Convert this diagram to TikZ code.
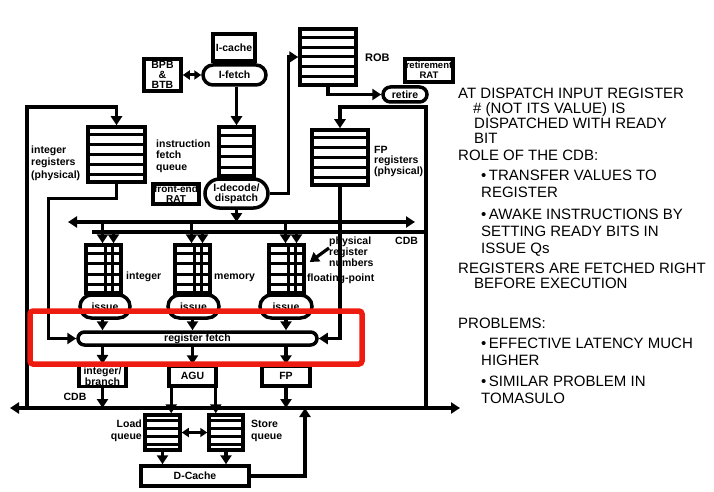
\documentclass[tikz,border=0pt]{standalone}
\usepackage{fontspec}
\setmainfont{Liberation Sans}
\usetikzlibrary{positioning,calc,arrows.meta,shapes.misc}
\definecolor{hlred}{HTML}{EE1C10}

\begin{document}
\begin{tikzpicture}[x=1pt, y=-1pt,
  box/.style={draw, line width=3.5pt, fill=white, inner sep=1pt, align=center,
              font=\bfseries\fontsize{10.5}{10}\selectfont},
  pill/.style={box, rounded rectangle},
  stack/.style={draw, line width=3.5pt, fill=white, inner sep=0pt},
  stripe/.style={line width=3pt},
  lbl/.style={inner sep=0pt, align=left, font=\bfseries\fontsize{10.5}{11.5}\selectfont},
  note/.style={inner sep=0pt, align=left, anchor=north west,
               font=\fontsize{15}{15}\selectfont},
  item/.style={note, font=\fontsize{15}{17}\selectfont},
  flow/.style={line width=3.2pt, -{Triangle[length=9pt,width=11pt]}},
  both/.style={line width=3pt, {Triangle[length=7pt,width=9pt]}-{Triangle[length=7pt,width=9pt]}},
  busarr/.style={line width=3.2pt, {Triangle[length=9pt,width=11pt]}-{Triangle[length=9pt,width=11pt]}},
  bus/.style={line width=3.2pt},
]
\useasboundingbox (0,0) rectangle (714,492);

% front end
\node[box, minimum width=37pt, minimum height=32pt] (bpb) at (162.5,75) {BPB\\\&\\BTB};
\node[box, minimum width=42pt, minimum height=27pt] (icache) at (234,47.5) {I-cache};
\node[pill, minimum width=65pt, minimum height=20pt] (ifetch) at (234.5,75) {I-fetch};
\node[stack, minimum width=35pt, minimum height=49pt] (ifq) at (236.5,151.5) {};
\node[box, minimum width=44pt, minimum height=20pt, font=\bfseries\fontsize{10}{10.5}\selectfont] (ferat) at (176,194) {front-end\\RAT};

% ROB and retirement
\node[stack, minimum width=56pt, minimum height=56pt] (rob) at (328,57) {};
\node[box, minimum width=44pt, minimum height=23pt, font=\bfseries\fontsize{9.5}{10}\selectfont] (retrat) at (429,70.5) {retirement\\RAT};
\node[pill, minimum width=46pt, minimum height=15pt] (retire) at (405,94.5) {retire};

% register files
\node[stack, minimum width=57pt, minimum height=55pt] (intreg) at (116.5,154.5) {};
\node[stack, minimum width=56pt, minimum height=55pt] (fpreg) at (340,157.5) {};

% issue queues
\node[stack, minimum width=35pt, minimum height=48pt] (iqint) at (103.5,269) {};
\node[stack, minimum width=35pt, minimum height=48pt] (iqmem) at (192.5,269) {};
\node[stack, minimum width=35pt, minimum height=48pt] (iqfp)  at (286.5,269) {};

% load/store queues
\node[stack, minimum width=35pt, minimum height=35pt] (ldq) at (162.5,432.5) {};
\node[stack, minimum width=34pt, minimum height=35pt] (stq) at (226,432.5) {};

\foreach \s/\n in {ifq/5, rob/6, intreg/6, fpreg/6, ldq/5, stq/5, iqint/5, iqmem/5, iqfp/5}{
  \pgfmathtruncatemacro{\m}{\n-1}
  \foreach \i in {1,...,\m}
    \draw[stripe] ($(\s.north west)!\i/\n!(\s.south west)$) -- ($(\s.north east)!\i/\n!(\s.south east)$);
}
\foreach \q in {iqint,iqmem,iqfp}{
  \draw[stripe] ([xshift=21pt]\q.north west) -- ([xshift=21pt]\q.south west);
  \draw[stripe] ([xshift=28pt]\q.north west) -- ([xshift=28pt]\q.south west);
}

\node[pill, minimum width=65pt, minimum height=29pt] (decode) at (236.5,193.5) {I-decode/\\dispatch};
\node[pill, minimum width=52pt, minimum height=23pt] (isint) at (105,306.5) {\raisebox{-3pt}{issue}};
\node[pill, minimum width=53pt, minimum height=23pt] (ismem) at (193.5,306.5) {\raisebox{-3pt}{issue}};
\node[pill, minimum width=54pt, minimum height=23pt] (isfp)  at (286,306.5) {\raisebox{-3pt}{issue}};
\node[pill, minimum width=241pt, minimum height=13pt] (regfetch) at (197.5,338.5) {register fetch};

% execution
\node[box, minimum width=47pt, minimum height=20pt, font=\bfseries\fontsize{10.5}{9.5}\selectfont] (intfu) at (102.5,376) {integer/\\branch};
\node[box, minimum width=47pt, minimum height=20pt] (agu) at (192.5,376) {AGU};
\node[box, minimum width=48pt, minimum height=20pt] (fpfu) at (286,376) {FP};
\node[box, minimum width=108pt, minimum height=20pt] (dcache) at (195,476) {D-Cache};

% labels
\node[lbl, anchor=west, font=\bfseries\fontsize{10.5}{12.5}\selectfont] (intlbl) at (31,163) {integer\\registers\\(physical)};
\node[lbl, anchor=west] (ifqlbl) at (156,156) {instruction\\fetch\\queue};
\node[lbl, anchor=west, font=\bfseries\fontsize{11}{12}\selectfont] (roblbl) at (365,58) {ROB};
\node[lbl, anchor=west, font=\bfseries\fontsize{10.5}{10.5}\selectfont] (fplbl) at (374,161) {FP\\registers\\(physical)};
\node[lbl, anchor=west] (intq) at (126,277) {integer};
\node[lbl, anchor=west] (memq) at (214,278) {memory};
\node[lbl, anchor=west] (fpq)  at (307,279) {floating-point};
\node[lbl, anchor=west, font=\bfseries\fontsize{10.5}{9}\selectfont] (prn) at (329,252) {physical\\register\\numbers};
\node[lbl, anchor=west] (cdbtop) at (395,241) {CDB};
\node[lbl] (cdbbot) at (75,397) {CDB};
\node[lbl, anchor=east, align=right] (ldlbl) at (142,431) {Load\\queue};
\node[lbl, anchor=west] (stlbl) at (251,431) {Store\\queue};

% bus points
\coordinate (cdbW) at (10,408);
\coordinate (cdbE) at (460,408);
\coordinate (cdbL) at (27,408);
\coordinate (cdbR) at (426,408);
\coordinate (cdbD) at (305,408);
\coordinate (topL) at (27,107);
\coordinate (topR) at (426,107);
\coordinate (dispL) at (68,222);
\coordinate (dispR) at (415,222);
\coordinate (cdbU) at (92,232);

% connectors
\draw[both] (bpb.east) -- (ifetch.west);
\draw[flow] (ifq.north |- ifetch.south) -- (ifq.north);
\draw[flow] (decode.east) -- ++(19,0) |- (rob.west);
\draw[flow] (rob.south) |- (retire.west);
\draw[flow] (cdbL) -- (topL) -| (intreg.north);
\draw[flow] (cdbR) -- (topR) -| (fpreg.north);
\draw[flow] (intreg.south) -- ++(0,15) -| ([xshift=-28pt]regfetch.west) -- (regfetch.west);
\draw[flow] (fpreg.south) |- (regfetch.east);
\draw[flow] (decode.south) -- (decode.south |- dispL);
\draw[busarr] (dispL) -- (dispR);
\draw[bus] (cdbU) -- (cdbU -| cdbR);
\draw[busarr] (cdbW) -- (cdbE);
\foreach \q in {iqint,iqmem,iqfp}{
  \draw[flow] ([xshift=-1pt]\q.north |- dispL) -- ([xshift=-1pt]\q.north);
  \draw[flow] ([xshift=10pt]\q.north |- cdbU) -- ([xshift=10pt]\q.north);
}
\foreach \a/\b in {isint/intfu, ismem/agu, isfp/fpfu}{
  \draw[flow] (\b.north |- \a.south) -- (\b.north |- regfetch.north);
  \draw[flow] (\b.north |- regfetch.south) -- (\b.north);
}
\draw[flow] (intfu.south) -- (intfu.south |- cdbW);
\draw[flow] (fpfu.south) -- (fpfu.south |- cdbW);
\draw[flow] ([xshift=4pt]agu.south west) -- ([xshift=4pt]agu.south west |- ldq.north);
\draw[flow] ([xshift=-2pt]agu.south east) -- ([xshift=-2pt]agu.south east |- stq.north);
\draw[both] (ldq.east) -- (stq.west);
\draw[flow] (ldq.south) -- (ldq.south |- dcache.north);
\draw[flow] (stq.south) -- (stq.south |- dcache.north);
\draw[flow] (dcache.east) -| (cdbD);
\draw[flow] ([yshift=4pt]prn.west) -- ([xshift=4pt,yshift=7pt]iqfp.east);

% highlight
\draw[hlred, line width=5.5pt, rounded corners=3pt] (30,311) rectangle (362,364);

% notes
\node[note] (n1) at (458,88) {AT DISPATCH INPUT REGISTER\\\hspace*{15pt}\# (NOT ITS VALUE) IS\\\hspace*{16pt}DISPATCHED WITH READY\\\hspace*{16pt}BIT};
\node[note] (n2) at (458,150) {ROLE OF THE CDB:};
\node[item] (n3) at (481,170) {\textbullet\,TRANSFER VALUES TO\\REGISTER};
\node[item] (n4) at (481,209) {\textbullet\,AWAKE INSTRUCTIONS BY\\SETTING READY BITS IN\\ISSUE Qs};
\node[note] (n5) at (458,263) {REGISTERS ARE FETCHED RIGHT\\\hspace*{16pt}BEFORE EXECUTION};
\node[note] (n6) at (458,318) {PROBLEMS:};
\node[item] (n7) at (481,338) {\textbullet\,EFFECTIVE LATENCY MUCH\\HIGHER};
\node[item] (n8) at (481,376) {\textbullet\,SIMILAR PROBLEM IN\\TOMASULO};
\end{tikzpicture}
\end{document}
